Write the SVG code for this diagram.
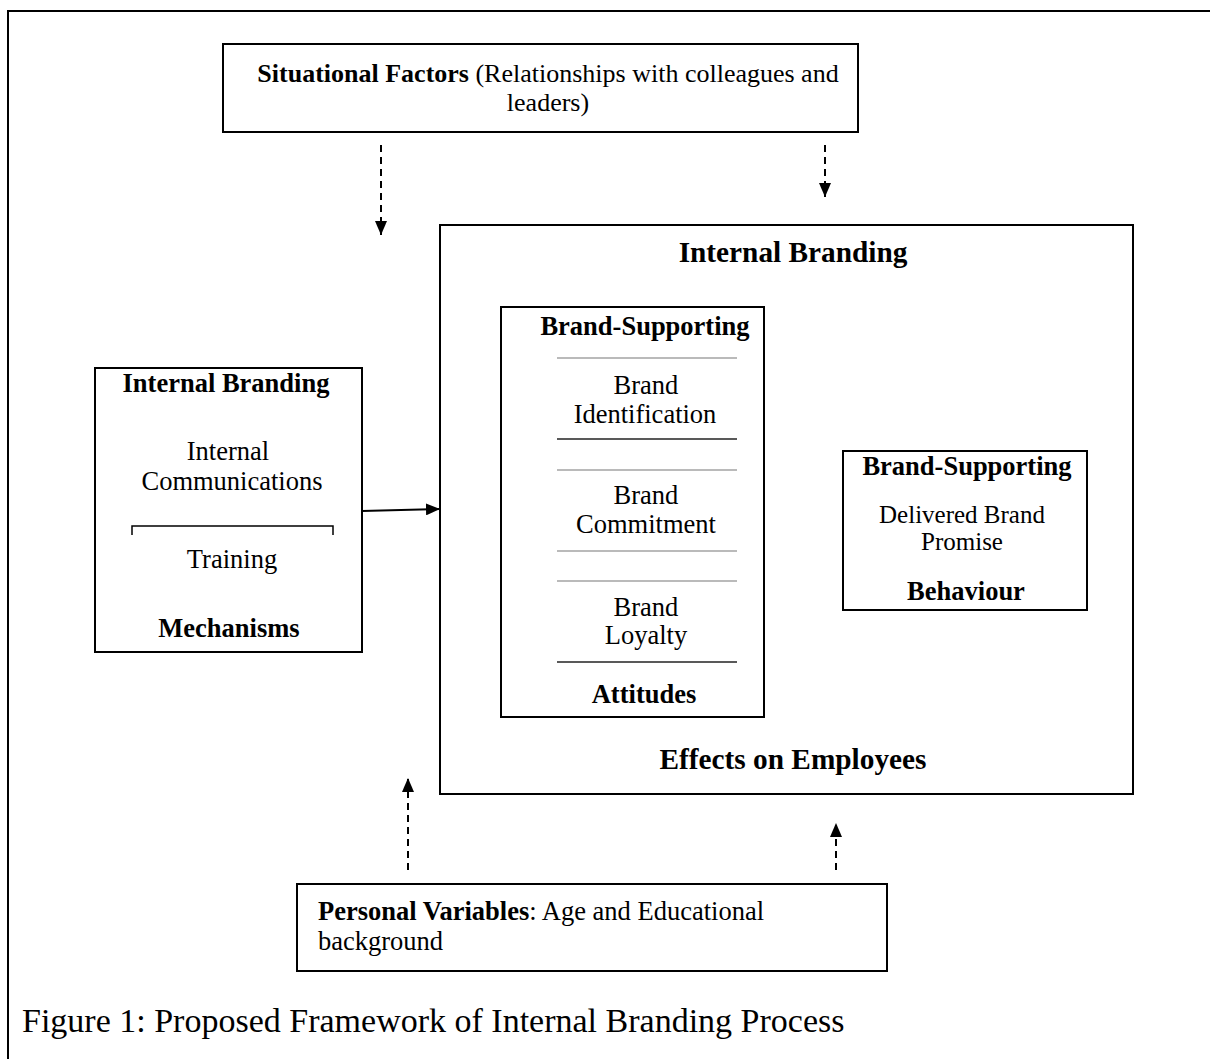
<svg xmlns="http://www.w3.org/2000/svg" width="1210" height="1059" viewBox="0 0 1210 1059">
<defs>
<style>
text{font-family:"Liberation Serif","Times New Roman",serif;fill:#000}
.b{font-weight:bold}
.n{font-size:26.5px}
.box{fill:#fff;stroke:#000;stroke-width:2}
.sep{stroke:#777;stroke-width:1.2}
.sepd{stroke:#222;stroke-width:1.5}
.dash{stroke:#000;stroke-width:2;stroke-dasharray:7,5;fill:none}
.solid{stroke:#000;stroke-width:2;fill:none}
</style>
<marker id="ah" markerWidth="14" markerHeight="12" refX="14" refY="6" orient="auto" markerUnits="userSpaceOnUse">
<path d="M0,0 L14,6 L0,12 Z" fill="#000"/>
</marker>
</defs>
<rect width="1210" height="1059" fill="#fff"/>
<path d="M8,1059 L8,11 L1210,11" fill="none" stroke="#000" stroke-width="2"/>

<g id="situational">
<rect class="box" x="223" y="44" width="635" height="88"/>
<text x="548" y="82" font-size="26" text-anchor="middle"><tspan class="b">Situational Factors</tspan> (Relationships with colleagues and</text>
<text x="548" y="111" font-size="26" text-anchor="middle">leaders)</text>
</g>

<g id="effects">
<rect class="box" x="440" y="225" width="693" height="569"/>
<text class="b" x="793" y="262" font-size="29.3" text-anchor="middle">Internal Branding</text>
<text class="b" x="793" y="769" font-size="29.3" text-anchor="middle">Effects on Employees</text>
</g>

<g id="mechanisms">
<rect class="box" x="95" y="368" width="267" height="284"/>
<text class="b n" x="226" y="392" text-anchor="middle">Internal Branding</text>
<text class="n" x="228" y="460" text-anchor="middle">Internal</text>
<text class="n" x="232" y="490" text-anchor="middle">Communications</text>
<path d="M132,535 L132,526 L333,526 L333,535" fill="none" stroke="#000" stroke-width="1.5"/>
<text class="n" x="232" y="568" text-anchor="middle">Training</text>
<text class="b n" x="229" y="637" text-anchor="middle">Mechanisms</text>
</g>

<g id="attitudes">
<rect class="box" x="501" y="307" width="263" height="410"/>
<text class="b n" x="645" y="335" text-anchor="middle">Brand-Supporting</text>
<line class="sep" x1="557" y1="358" x2="737" y2="358"/>
<text class="n" x="646" y="394" text-anchor="middle">Brand</text>
<text class="n" x="645" y="423" text-anchor="middle">Identification</text>
<line class="sepd" x1="557" y1="439" x2="737" y2="439"/>
<line class="sep" x1="557" y1="470" x2="737" y2="470"/>
<text class="n" x="646" y="504" text-anchor="middle">Brand</text>
<text class="n" x="646" y="533" text-anchor="middle">Commitment</text>
<line class="sep" x1="557" y1="551" x2="737" y2="551"/>
<line class="sep" x1="557" y1="581" x2="737" y2="581"/>
<text class="n" x="646" y="616" text-anchor="middle">Brand</text>
<text class="n" x="646" y="644" text-anchor="middle">Loyalty</text>
<line class="sepd" x1="557" y1="662" x2="737" y2="662"/>
<text class="b n" x="644" y="703" text-anchor="middle">Attitudes</text>
</g>

<g id="behaviour">
<rect class="box" x="843" y="451" width="244" height="159"/>
<text class="b n" x="967" y="475" text-anchor="middle">Brand-Supporting</text>
<text x="962" y="523" font-size="25" text-anchor="middle">Delivered Brand</text>
<text x="962" y="550" font-size="25" text-anchor="middle">Promise</text>
<text class="b n" x="966" y="600" text-anchor="middle">Behaviour</text>
</g>

<g id="personal">
<rect class="box" x="297" y="884" width="590" height="87"/>
<text class="n" x="318" y="920"><tspan class="b">Personal Variables</tspan>: Age and Educational</text>
<text class="n" x="318" y="950">background</text>
</g>

<text id="caption" x="22" y="1032" font-size="34">Figure 1: Proposed Framework of Internal Branding Process</text>

<g id="connectors">
<line class="dash" x1="381" y1="145" x2="381" y2="235" marker-end="url(#ah)"/>
<line class="dash" x1="825" y1="145" x2="825" y2="197" marker-end="url(#ah)"/>
<line class="solid" x1="362" y1="511" x2="440" y2="509" marker-end="url(#ah)"/>
<line class="dash" x1="408" y1="870" x2="408" y2="778" marker-end="url(#ah)"/>
<line class="dash" x1="836" y1="870" x2="836" y2="823" marker-end="url(#ah)"/>
</g>
</svg>
